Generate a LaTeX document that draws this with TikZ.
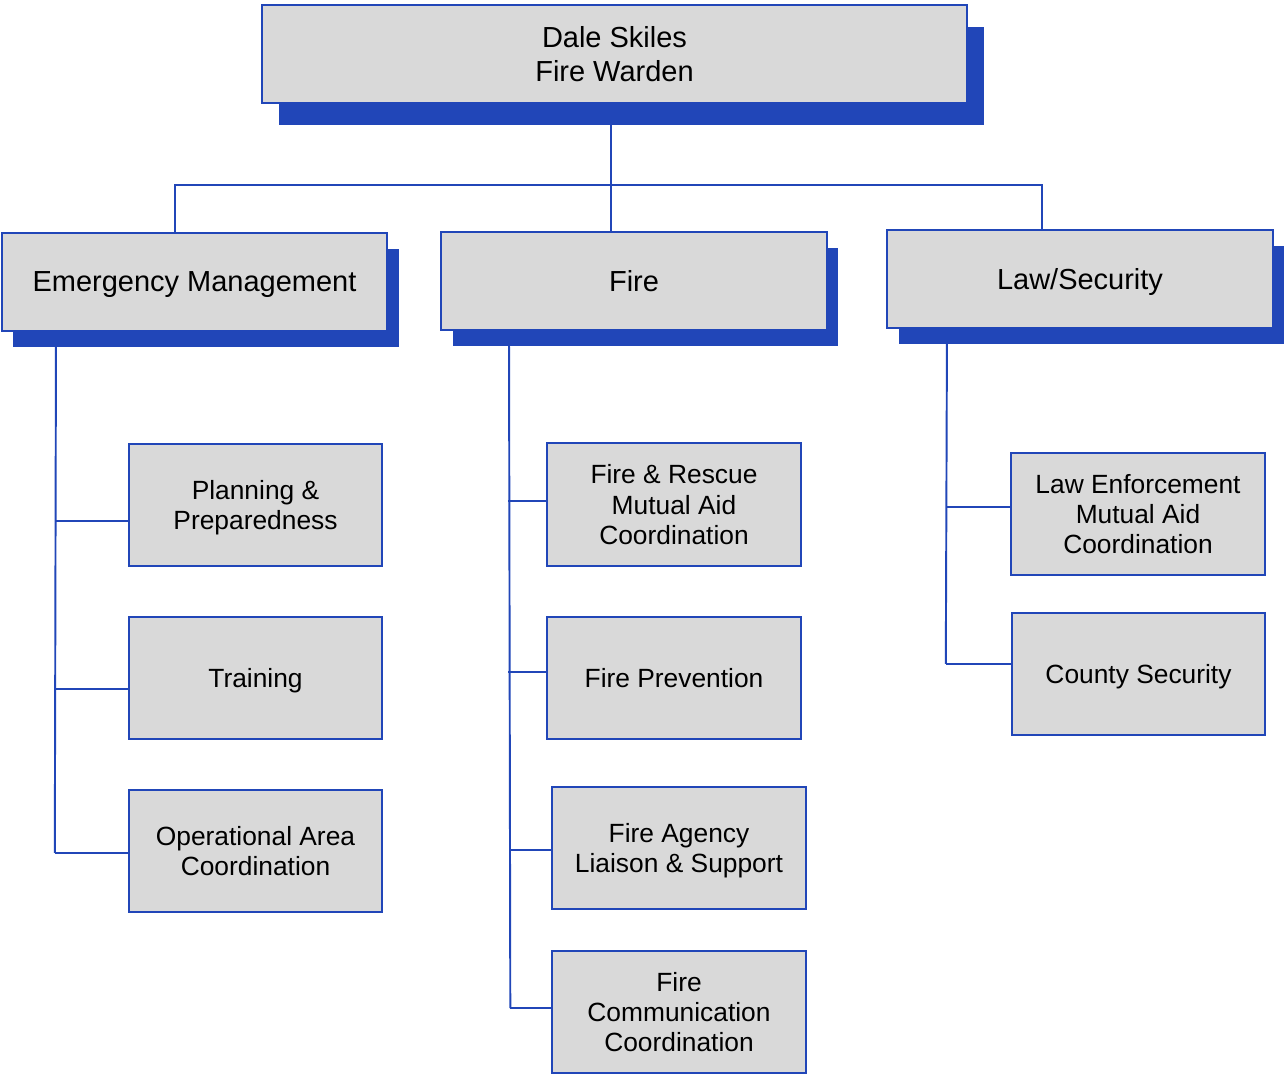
\documentclass[tikz,border=0pt]{standalone}
\usepackage{fontspec}
\setmainfont{Liberation Sans}
\usepackage{tikz}
\usetikzlibrary{shadows,calc}

\definecolor{boxblue}{RGB}{33,70,184}
\definecolor{boxgray}{RGB}{217,217,217}

\tikzset{
  unit/.style={draw=boxblue,fill=boxgray,line width=1.1pt,align=center,inner sep=0pt,text depth=0pt,
      minimum width=5.07cm,minimum height=2.45cm,font=\fontsize{15}{17.3}\selectfont},
  head/.style={unit,minimum width=7.72cm,minimum height=1.96cm,font=\fontsize{16.5}{19}\selectfont},
  deptshadow/.style={drop shadow={shadow xshift=0.23cm,shadow yshift=-0.32cm,fill=boxblue,opacity=1}},
  link/.style={draw=boxblue,line width=1.1pt}
}

\begin{document}
\begin{tikzpicture}[x=0.02cm,y=-0.02cm]

\useasboundingbox (0,0) rectangle (1286,1074);

\node[head,minimum width=14.1cm,
   drop shadow={shadow xshift=0.34cm,shadow yshift=-0.44cm,fill=boxblue,opacity=1}]
   (warden) at (614.5,54) {Dale Skiles\\Fire Warden};

\node[head,deptshadow] (emgmt) at (194.5,282) {Emergency Management};
\node[head,deptshadow] (fire)  at (634,281)   {Fire};
\node[head,deptshadow] (law)   at (1080,279)  {Law/Security};

\node[unit] (plan)    at (255.5,505) {Planning \&\\Preparedness};
\node[unit] (train)   at (255.5,678) {Training};
\node[unit] (oparea)  at (255.5,851) {Operational Area\\Coordination};

\node[unit] (rescue)  at (674,504.5) {Fire \& Rescue\\Mutual Aid\\Coordination};
\node[unit] (prevent) at (674,678)   {Fire Prevention};
\node[unit] (liaison) at (679,848)   {Fire Agency\\Liaison \& Support};
\node[unit] (comm)    at (679,1012)  {Fire\\Communication\\Coordination};

\node[unit] (lawenf)  at (1138,514)  {Law Enforcement\\Mutual Aid\\Coordination};
\node[unit] (county)  at (1138.5,674) {County Security};

\coordinate (bus)  at ( 611,185);
\coordinate (busl) at ( 175,185);
\coordinate (busr) at (1042,185);

\draw[link] (warden.south -| bus) -- (fire.north -| bus);
\draw[link] (emgmt.north -| busl) -- (busl) -- (busr) -- (law.north -| busr);

% branches
\coordinate (emspine)   at ( 56,0);
\coordinate (firespine) at (509,0);
\coordinate (lawspine)  at (947,0);

\draw[link] (emgmt.south -| emspine) -- ($(oparea.west)+(-73,2)$);
\foreach \n/\d in {plan/16,train/11,oparea/2}
  {\draw[link] ($(\n.west)+(0,\d)$) -- ++(-73,0);}

\draw[link] (fire.south -| firespine) -- ($(comm.west)+(-41,-4)$);
\foreach \n/\d/\l in {rescue/-3.5/38,prevent/-6/38,liaison/2/41,comm/-4/41}
  {\draw[link] ($(\n.west)+(0,\d)$) -- ++(-\l,0);}

\draw[link] (law.south -| lawspine) -- ($(county.west)+(-65,-10)$);
\foreach \n/\d/\l in {lawenf/-7/64,county/-10/65}
  {\draw[link] ($(\n.west)+(0,\d)$) -- ++(-\l,0);}

\end{tikzpicture}
\end{document}
